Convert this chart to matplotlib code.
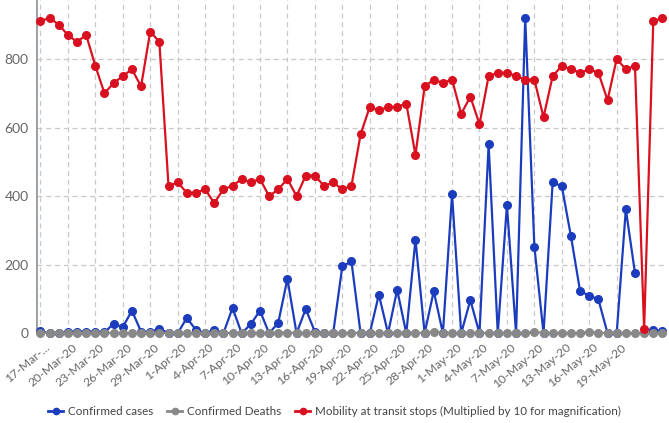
import datetime as dt

import matplotlib
matplotlib.use("Agg")
import matplotlib.pyplot as plt
import matplotlib.transforms as mtransforms
from matplotlib.lines import Line2D
import numpy as np

BLUE = "#1c3cbe"
GREY = "#888888"
RED = "#d9101f"
TXT = "#666666"

plt.rcParams["font.family"] = ["Lato", "DejaVu Sans"]

# 17-Mar-20 .. 24-May-20, one point per day
start = dt.date(2020, 3, 17)
n_days = 69
dates = [start + dt.timedelta(days=i) for i in range(n_days)]

confirmed_cases = [
    6, 0, 0, 5, 5, 5, 5, 3, 28, 18,
    66, 5, 3, 14, 0, 0, 45, 10, 0, 10,
    0, 74, 0, 27, 66, 0, 31, 159, 0, 71,
    5, 0, 0, 195, 210, 0, 0, 113, 0, 127,
    0, 273, 0, 123, 0, 405, 0, 97, 0, 551,
    0, 374, 0, 920, 253, 0, 440, 429, 283, 123,
    110, 99, 0, 0, 362, 176, np.nan, 10, 6,
]
confirmed_deaths = [
    1, 1, 1, 1, 1, 1, 1, 1, 1, 1,
    1, 1, 1, 1, 1, 1, 1, 1, 1, 1,
    1, 1, 1, 1, 1, 1, 2, 2, 1, 1,
    2, 1, 1, 1, 1, 1, 1, 1, 1, 1,
    2, 1, 1, 5, 1, 1, 1, 1, 1, 1,
    1, 1, 1, 1, 4, 1, 1, 1, 1, 1,
    4, 1, 1, 1, 1, 1, 1, 1, 1,
]
mobility_x10 = [
    910, 920, 900, 870, 850, 870, 780, 700, 730, 750,
    770, 720, 880, 850, 430, 440, 410, 410, 420, 380,
    420, 430, 450, 440, 450, 400, 420, 450, 400, 460,
    460, 430, 440, 420, 430, 580, 660, 650, 660, 660,
    670, 520, 720, 740, 730, 740, 640, 690, 610, 750,
    760, 760, 750, 740, 740, 630, 750, 780, 770, 760,
    770, 760, 680, 800, 770, 780, 12, 910, 920,
]

tick_idx = list(range(0, 64, 3))
tick_labels = [f"{d.day}-{d.strftime('%b')}-20" for d in (dates[i] for i in tick_idx)]
tick_labels[0] = "17-Mar-..."

fig = plt.figure(figsize=(6.69, 4.23), dpi=100)
ax = fig.add_axes([0.055, 0.212, 0.942, 0.788])

x = np.arange(n_days)
kw = dict(marker="o", markersize=5.5, linewidth=1.6, clip_on=False)
ax.plot(x, confirmed_cases, color=BLUE, zorder=3, **kw)
ax.plot(x, confirmed_deaths, color=GREY, zorder=4, **kw)
ax.plot(x, mobility_x10, color=RED, zorder=5, **kw)

ax.set_xlim(-0.4, 68.5)
ax.set_ylim(0, 972)
ax.set_yticks([0, 200, 400, 600, 800])
ax.set_xticks(tick_idx)
ax.set_xticklabels(tick_labels, rotation=40, ha="right", va="top",
                   rotation_mode="anchor", fontsize=8.8)
ax.tick_params(axis="both", length=0, colors=TXT, labelsize=10)
ax.tick_params(axis="x", pad=6, labelsize=8.8)
ax.tick_params(axis="y", pad=6)
shift = mtransforms.ScaledTranslation(4 / 100, 0, fig.dpi_scale_trans)
for lab in ax.get_xticklabels():
    lab.set_transform(lab.get_transform() + shift)

ax.grid(True, color="#c8c8c8", linestyle=(0, (4, 3)), linewidth=0.9)
ax.set_axisbelow(True)
for s in ["top", "right", "bottom"]:
    ax.spines[s].set_visible(False)
ax.spines["left"].set_color("#8a8f99")
ax.spines["left"].set_linewidth(1.2)

handles = [Line2D([], [], color=c, marker="o", markersize=4.5, linewidth=2)
           for c in (BLUE, GREY, RED)]
labels = ["Confirmed cases", "Confirmed Deaths",
          "Mobility at transit stops (Multiplied by 10 for magnification)"]
fig.legend(handles, labels, loc="center", bbox_to_anchor=(0.5, 0.028),
           ncol=3, frameon=False, fontsize=8.4, handlelength=1.3,
           handletextpad=0.4, columnspacing=1.2, labelcolor="#444444")

fig.savefig("out.png", dpi=100)
